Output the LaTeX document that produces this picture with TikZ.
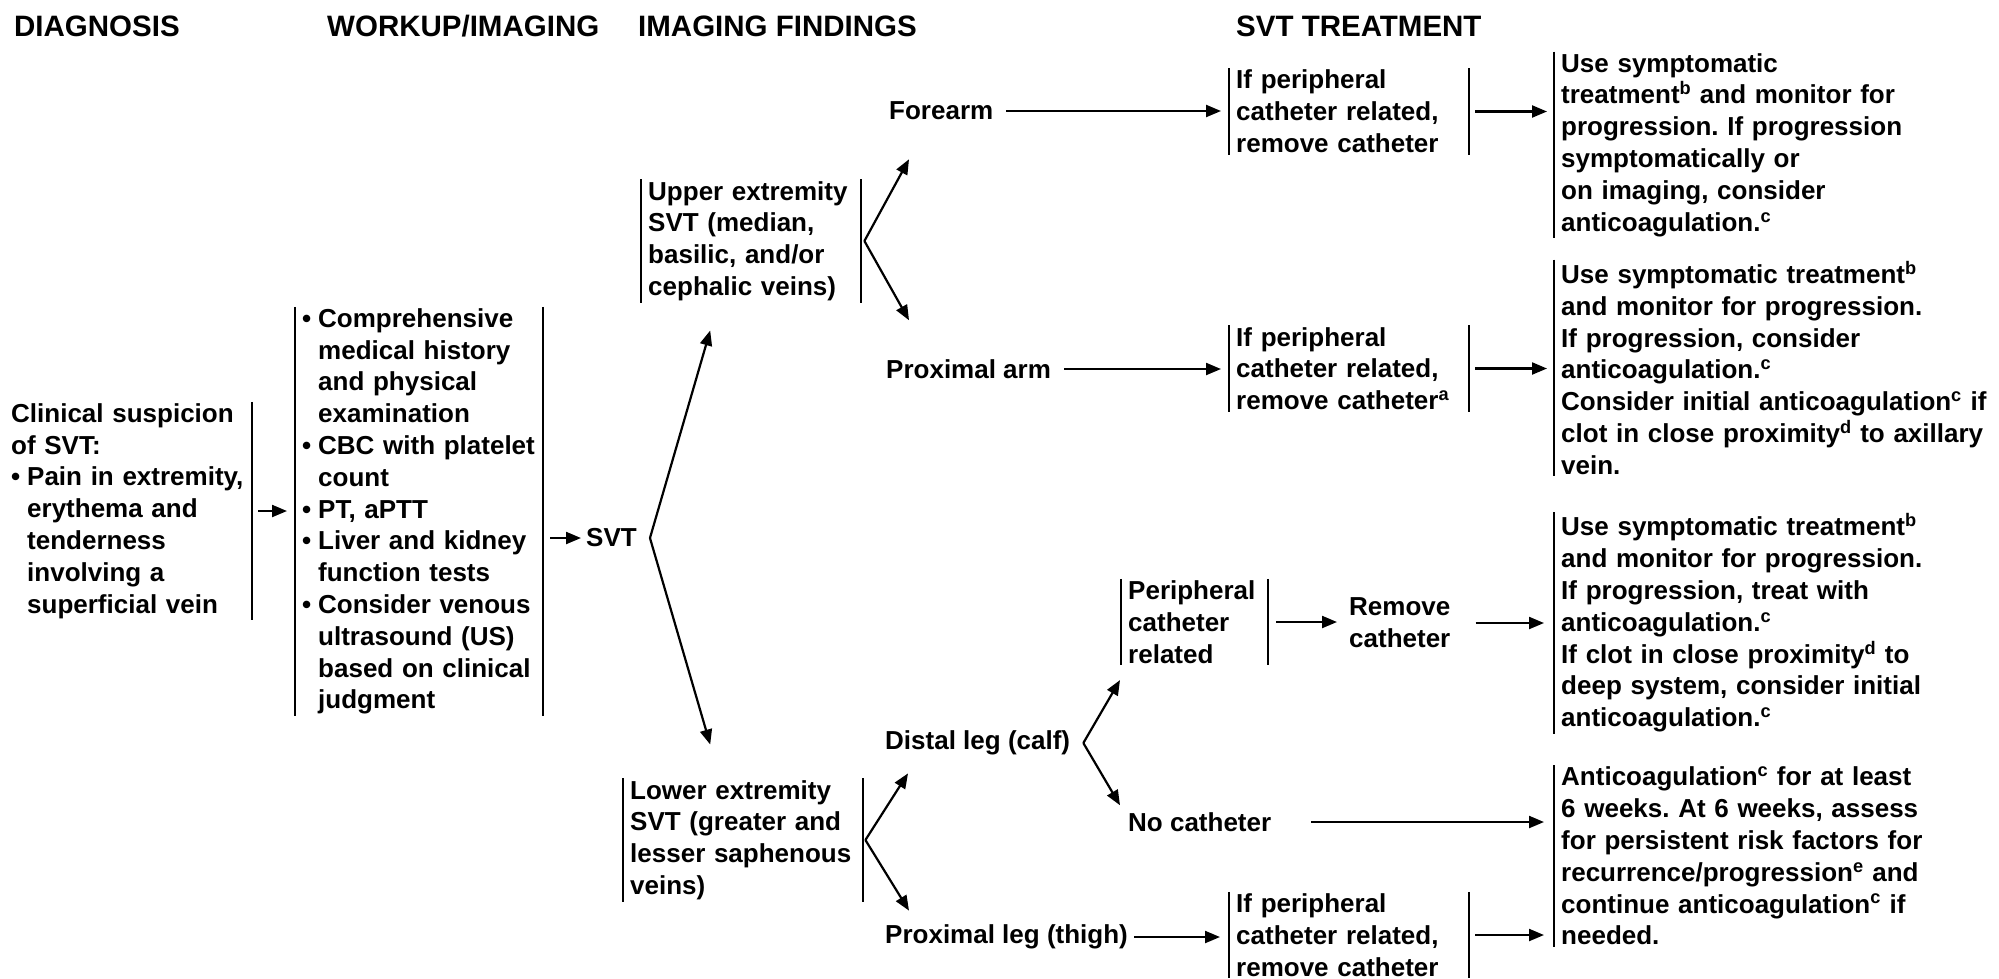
\documentclass[tikz,border=0pt]{standalone}
\usepackage{fontspec}
\setmainfont{Liberation Sans}
\usepackage{tikz}
\usetikzlibrary{arrows.meta, calc}
\newcommand{\flowfont}{\fontsize{26}{31.8}\selectfont\bfseries}
\newcommand{\headfont}{\fontsize{29.5}{34}\selectfont\bfseries}
\newcommand{\bitem}{\makebox[16pt][l]{\textbullet}}
\newcommand{\bcont}{\hspace*{16pt}}
\frenchspacing

\begin{document}
\begin{tikzpicture}[x=1pt, y=-1pt, >={Triangle[length=15pt, width=12pt]},
  head/.style={font=\headfont, anchor=base west, inner sep=0pt},
  plain/.style={font=\flowfont, anchor=west, align=left, inner sep=3pt},
  conn/.style={line width=2.2pt, ->},
  barline/.style={line width=2pt},
  txtbox/.style={font=\flowfont, anchor=west, align=left, inner xsep=7pt, inner ysep=1.5pt, text width=#1pt},
  bothbars/.style={txtbox=#1, append after command={
      (\tikzlastnode.north west) edge[barline] (\tikzlastnode.south west)
      (\tikzlastnode.north east) edge[barline] (\tikzlastnode.south east)}},
  leftbar/.style={txtbox=#1, append after command={
      (\tikzlastnode.north west) edge[barline] (\tikzlastnode.south west)}},
  rightbar/.style={txtbox=#1, append after command={
      (\tikzlastnode.north east) edge[barline] (\tikzlastnode.south east)}}]

  \useasboundingbox (0,0) rectangle (1999,978);
  \fill[white] (0,0) rectangle (1999,978);

  % column heads
  \node[head] (hDiag)  at (14,36)   {DIAGNOSIS};
  \node[head] (hWork)  at (327,36)  {WORKUP/IMAGING};
  \node[head] (hFind)  at (638,36)  {IMAGING FINDINGS};
  \node[head] (hTreat) at (1236,36) {SVT TREATMENT};

  % diagnosis and workup
  \node[rightbar=234] (susp) at (4,511) {Clinical suspicion\\of SVT:\\\bitem Pain in extremity,\\\bcont erythema and\\\bcont tenderness\\\bcont involving a\\\bcont superficial vein};
  \node[bothbars=234] (workup) at (295,511.5) {\bitem Comprehensive\\\bcont medical history\\\bcont and physical\\\bcont examination\\\bitem CBC with platelet\\\bcont count\\\bitem PT, aPTT\\\bitem Liver and kidney\\\bcont function tests\\\bitem Consider venous\\\bcont ultrasound (US)\\\bcont based on clinical\\\bcont judgment};
  \node[plain] (svt) at (583,538) {SVT};
  \draw[conn, shorten <=6pt, shorten >=8pt] (susp.east) -- (susp.east -| workup.west);
  \draw[conn, shorten <=7pt, shorten >=2pt] (workup.east |- svt.west) -- (svt.west);

  % upper / lower extremity
  \node[bothbars=206] (upperExt) at (641,241) {Upper extremity\\SVT (median,\\basilic, and/or\\cephalic veins)};
  \node[bothbars=226] (lowerExt) at (623,840) {Lower extremity\\SVT (greater and\\lesser saphenous\\veins)};
  \coordinate (svtFork) at ([xshift=10pt]svt.east);
  \draw[conn] (svtFork) -- ([xshift=-41pt, yshift=-28pt]upperExt.south);
  \draw[conn] (svtFork) -- ([xshift=-33pt, yshift=34pt]lowerExt.north);

  % arm findings
  \node[plain] (forearm) at (886,111) {Forearm};
  \node[plain] (proxArm) at (883,369) {Proximal arm};
  \coordinate (upFork) at ([xshift=3pt]upperExt.east);
  \draw[conn] (upFork) -- ([xshift=23pt, yshift=-36pt]forearm.south west);
  \draw[conn] (upFork) -- ([xshift=26pt, yshift=36pt]proxArm.north west);

  % leg findings
  \node[plain] (distLeg) at (882,743) {Distal leg (calf)};
  \node[plain] (proxLeg) at (882,937) {Proximal leg (thigh)};
  \coordinate (lowFork) at ([xshift=2pt]lowerExt.east);
  \draw[conn] (lowFork) -- ([xshift=26pt, yshift=-15pt]distLeg.south west);
  \draw[conn] (lowFork) -- ([xshift=27pt, yshift=11pt]proxLeg.north west);

  % treatment steps
  \node[bothbars=226] (cathArm) at (1229,111.5) {If peripheral\\catheter related,\\remove catheter};
  \node[bothbars=226] (cathProx) at (1229,368.5) {If peripheral\\catheter related,\\remove catheter\textsuperscript{a}};
  \node[bothbars=133] (periph) at (1121,622) {Peripheral\\catheter\\related};
  \node[plain] (removeCath) at (1346,623) {Remove\\catheter};
  \node[plain] (noCath) at (1125,822) {No catheter};
  \node[bothbars=226] (cathLeg) at (1229,935) {If peripheral\\catheter related,\\remove catheter};
  \coordinate (calfFork) at ([xshift=10pt]distLeg.east);
  \draw[conn] (calfFork) -- ([xshift=-1pt, yshift=-15pt]periph.south west);
  \draw[conn] (calfFork) -- ([xshift=-5pt, yshift=4pt]noCath.north west);

  % outcomes
  \node[leftbar=445] (resArm) at (1554,145) {Use symptomatic\\treatment\textsuperscript{b} and monitor for\\progression. If progression\\symptomatically or\\on imaging, consider\\anticoagulation.\textsuperscript{c}};
  \node[leftbar=445] (resProx) at (1554,368) {Use symptomatic treatment\textsuperscript{b}\\and monitor for progression.\\If progression, consider\\anticoagulation.\textsuperscript{c}\\Consider initial anticoagulation\textsuperscript{c} if\\clot in close proximity\textsuperscript{d} to axillary\\vein.};
  \node[leftbar=445] (resCalf) at (1554,623) {Use symptomatic treatment\textsuperscript{b}\\and monitor for progression.\\If progression, treat with\\anticoagulation.\textsuperscript{c}\\If clot in close proximity\textsuperscript{d} to\\deep system, consider initial\\anticoagulation.\textsuperscript{c}};
  \node[leftbar=445] (resAnti) at (1554,856) {Anticoagulation\textsuperscript{c} for at least\\6 weeks. At 6 weeks, assess\\for persistent risk factors for\\recurrence/progression\textsuperscript{e} and\\continue anticoagulation\textsuperscript{c} if\\needed.};

  % horizontal links
  \draw[conn, shorten <=10pt, shorten >=8pt] (forearm.east) -- (forearm.east -| cathArm.west);
  \draw[conn, shorten <=10pt, shorten >=8pt] (proxArm.east) -- (proxArm.east -| cathProx.west);
  \draw[conn, shorten <=6pt, shorten >=7pt] (cathArm.east) -- (cathArm.east -| resArm.west);
  \draw[conn, shorten <=6pt, shorten >=7pt] (cathProx.east) -- (cathProx.east -| resProx.west);
  \draw[conn, shorten <=8pt, shorten >=9pt] (periph.east) -- (periph.east -| removeCath.west);
  \draw[conn, shorten <=22pt, shorten >=10pt] (removeCath.east) -- (removeCath.east -| resCalf.west);
  \draw[conn, shorten <=37pt, shorten >=10pt] (noCath.east) -- (noCath.east -| resAnti.west);
  \draw[conn, shorten <=3pt, shorten >=9pt] (proxLeg.east) -- (proxLeg.east -| cathLeg.west);
  \draw[conn, shorten <=6pt, shorten >=10pt] (cathLeg.east) -- (cathLeg.east -| resAnti.west);

\end{tikzpicture}
\end{document}
